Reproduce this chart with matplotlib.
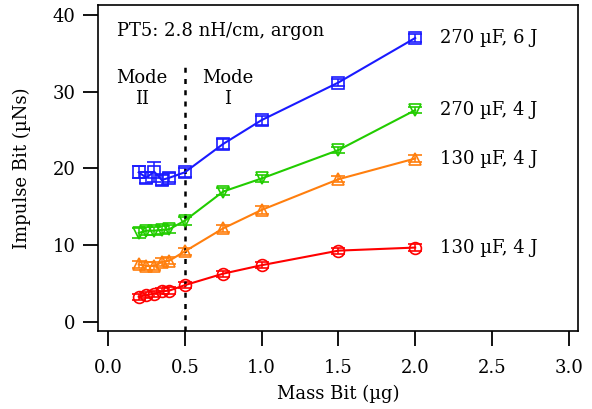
import matplotlib
matplotlib.use('Agg')
import matplotlib.pyplot as plt

plt.rcParams.update({
    'font.family': 'serif',
    'font.serif': ['DejaVu Serif', 'Liberation Serif'],
    'font.size': 13,
})

mass = [0.2, 0.25, 0.3, 0.35, 0.4, 0.5, 0.75, 1.0, 1.5, 2.0]

imp_270_6 = [19.5, 18.8, 19.6, 18.5, 18.8, 19.5, 23.2, 26.3, 31.2, 37.0]
err_270_6 = [0.8, 0.7, 1.3, 0.7, 0.6, 0.6, 0.6, 0.6, 0.5, 0.5]
imp_270_4 = [11.6, 11.9, 11.9, 12.0, 12.1, 13.2, 17.0, 18.7, 22.4, 27.6]
err_270_4 = [0.6, 0.5, 0.5, 0.5, 0.5, 0.5, 0.5, 0.5, 0.4, 0.4]
imp_130_4a = [7.5, 7.3, 7.3, 7.8, 8.0, 9.2, 12.2, 14.6, 18.6, 21.3]
err_130_4a = [0.5, 0.5, 0.5, 0.5, 0.5, 0.5, 0.5, 0.5, 0.4, 0.4]
imp_130_4b = [3.3, 3.5, 3.7, 4.0, 4.1, 4.8, 6.3, 7.4, 9.3, 9.7]
err_130_4b = [0.4, 0.4, 0.4, 0.4, 0.4, 0.4, 0.4, 0.4, 0.4, 0.4]

series = [
    (imp_270_6, err_270_6, '#1a1aff', 's', '270 µF, 6 J'),
    (imp_270_4, err_270_4, '#22cc00', 'v', '270 µF, 4 J'),
    (imp_130_4a, err_130_4a, '#ff7f0e', '^', '130 µF, 4 J'),
    (imp_130_4b, err_130_4b, '#ff0000', 'o', '130 µF, 4 J'),
]

fig = plt.figure(figsize=(5.92, 4.09), dpi=100)
ax = fig.add_axes([98 / 592, 1 - 331 / 409, 480 / 592, 326 / 409])

for y, e, c, m, lab in series:
    ax.errorbar(mass, y, yerr=e, color=c, marker=m, markersize=8.5,
                markerfacecolor='none', markeredgewidth=1.2, lw=1.5,
                capsize=5, elinewidth=1.1, capthick=1.1)
    ax.text(2.16, y[-1], lab, ha='left', va='center')

ax.plot([0.5, 0.5], [-1.2, 33.9], color='k', ls=(0, (2, 2.5)), lw=1.8)
ax.text(0.22, 33.0, 'Mode\nII', ha='center', va='top', linespacing=1.25)
ax.text(0.78, 33.0, 'Mode\nI', ha='center', va='top', linespacing=1.25)
ax.text(0.06, 37.9, 'PT5: 2.8 nH/cm, argon', ha='left', va='center')

ax.set_xlim(-0.065, 3.06)
ax.set_ylim(-1.17, 41.3)
ax.set_xticks([0.0, 0.5, 1.0, 1.5, 2.0, 2.5, 3.0])
ax.set_xticklabels(['0.0', '0.5', '1.0', '1.5', '2.0', '2.5', '3.0'])
ax.set_yticks([0, 10, 20, 30, 40])
ax.tick_params(direction='out', length=11, width=1.3)
ax.tick_params(axis='x', pad=9)
ax.tick_params(axis='y', pad=5)
for s in ax.spines.values():
    s.set_linewidth(1.2)
ax.set_xlabel('Mass Bit (µg)', labelpad=6)
ax.set_ylabel('Impulse Bit (µNs)', labelpad=16)

fig.savefig('out.png', dpi=100)
